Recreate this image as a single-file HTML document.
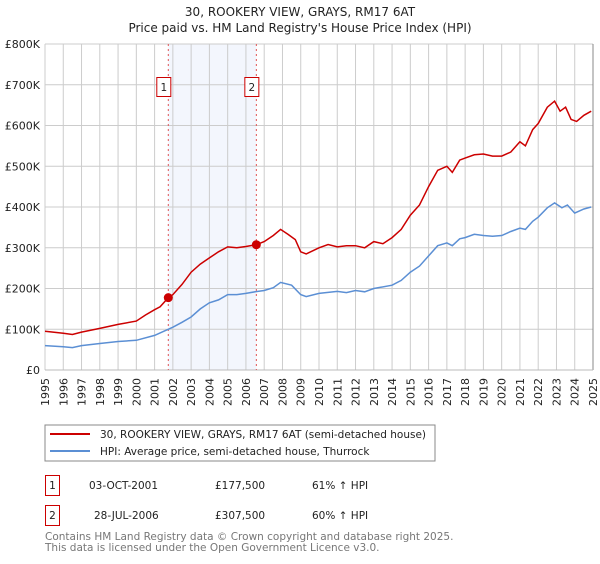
<!DOCTYPE html>
<html><head><meta charset="utf-8"><style>
body{margin:0;background:#fff;font-family:"DejaVu Sans","Liberation Sans",sans-serif;}
svg text{font-family:"DejaVu Sans","Liberation Sans",sans-serif;}
</style></head><body>
<svg width="600" height="560" xmlns="http://www.w3.org/2000/svg">
<text x="300" y="16" text-anchor="middle" font-size="12" fill="#222">30, ROOKERY VIEW, GRAYS, RM17 6AT</text>
<text x="300" y="32" text-anchor="middle" font-size="12" fill="#222">Price paid vs. HM Land Registry's House Price Index (HPI)</text>
<g id="plot"></g>
<rect x="45" y="425" width="390" height="36" fill="#fff" stroke="#888"/>
<line x1="50" y1="434" x2="90" y2="434" stroke="#cc0000" stroke-width="2"/>
<text x="100" y="438" font-size="10.5" fill="#222">30, ROOKERY VIEW, GRAYS, RM17 6AT (semi-detached house)</text>
<line x1="50" y1="451" x2="90" y2="451" stroke="#5b8fd4" stroke-width="2"/>
<text x="100" y="455" font-size="10.5" fill="#222">HPI: Average price, semi-detached house, Thurrock</text>
<g>
<rect x="45.5" y="475.5" width="14" height="20" fill="#fff" stroke="#cc0000"/>
<text x="52.5" y="489" text-anchor="middle" font-size="10.5" fill="#222">1</text>
<text x="89" y="489" font-size="10.5" fill="#222">03-OCT-2001</text>
<text x="215" y="489" font-size="10.5" fill="#222">£177,500</text>
<text x="312" y="489" font-size="10.5" fill="#222">61% ↑ HPI</text>
</g>
<g>
<rect x="45.5" y="505.5" width="14" height="20" fill="#fff" stroke="#cc0000"/>
<text x="52.5" y="519" text-anchor="middle" font-size="10.5" fill="#222">2</text>
<text x="94" y="519" font-size="10.5" fill="#222">28-JUL-2006</text>
<text x="215" y="519" font-size="10.5" fill="#222">£307,500</text>
<text x="312" y="519" font-size="10.5" fill="#222">60% ↑ HPI</text>
</g>
<text x="45" y="540" font-size="10.5" fill="#777">Contains HM Land Registry data © Crown copyright and database right 2025.</text>
<text x="45" y="551" font-size="10.5" fill="#777">This data is licensed under the Open Government Licence v3.0.</text>
</svg>
<script>
const redYears=[1995,1996,1996.5,1997,1998,1999,2000,2000.5,2001,2001.3,2001.75,2002,2002.5,2003,2003.5,2004,2004.5,2005,2005.5,2006,2006.57,2007,2007.5,2007.9,2008.3,2008.7,2009,2009.3,2010,2010.5,2011,2011.5,2012,2012.5,2013,2013.5,2014,2014.5,2015,2015.5,2016,2016.5,2017,2017.3,2017.7,2018,2018.5,2019,2019.5,2020,2020.5,2021,2021.3,2021.7,2022,2022.5,2022.9,2023.2,2023.5,2023.8,2024.1,2024.5,2024.9];
const redValues=[95,90,87,93,102,112,120,135,148,155,177.5,185,210,240,260,275,290,302,300,303,307.5,315,330,345,333,320,290,285,300,308,302,305,305,300,315,310,325,345,380,405,450,490,500,485,515,520,528,530,525,525,535,560,550,590,605,645,660,635,645,615,610,625,635];
const hpiYears=[1995,1996,1996.5,1997,1998,1999,2000,2001,2001.5,2002,2002.5,2003,2003.5,2004,2004.5,2005,2005.5,2006,2006.5,2007,2007.5,2007.9,2008.5,2009,2009.3,2010,2011,2011.5,2012,2012.5,2013,2014,2014.5,2015,2015.5,2016,2016.5,2017,2017.3,2017.7,2018,2018.5,2019,2019.5,2020,2020.5,2021,2021.3,2021.7,2022,2022.5,2022.9,2023.3,2023.6,2024,2024.5,2024.9];
const hpiValues=[60,57,55,60,65,70,73,85,95,105,117,130,150,165,172,185,185,188,192,195,202,215,208,185,180,188,193,190,195,192,200,208,220,240,255,280,305,312,305,322,325,333,330,328,330,340,348,345,365,375,398,410,398,405,385,395,400];
const yTicks=[0,100,200,300,400,500,600,700,800];
const yTickLabels=["£0","£100K","£200K","£300K","£400K","£500K","£600K","£700K","£800K"];
const xTicks=[1995,1996,1997,1998,1999,2000,2001,2002,2003,2004,2005,2006,2007,2008,2009,2010,2011,2012,2013,2014,2015,2016,2017,2018,2019,2020,2021,2022,2023,2024,2025];
const sales=[{t:2001.75,v:177.5,label:"1"},{t:2006.57,v:307.5,label:"2"}];
const X0=45,X1=593,Y0=370,Y1=44;
const xs=t=>X0+(t-1995)/30*(X1-X0);
const ys=v=>Y0-v/800*(Y0-Y1);
const NS="http://www.w3.org/2000/svg";
const g=document.getElementById('plot');
function mk(tag,a){const e=document.createElementNS(NS,tag);for(const k in a)e.setAttribute(k,a[k]);g.appendChild(e);return e;}
let e=mk('rect',{x:xs(sales[0].t),y:Y1,width:xs(sales[1].t)-xs(sales[0].t),height:Y0-Y1,fill:'#f3f6fd'});


yTicks.forEach((v,i)=>{
 let l=mk('line',{x1:X0,x2:X1,y1:ys(v),y2:ys(v),stroke:'#ccc'});
 
 
 let t=mk('text',{x:40,y:ys(v)+4,'text-anchor':'end','font-size':'11',fill:'#222'});
 t.textContent=yTickLabels[i];
 
 
});
xTicks.forEach(yr=>{
 let l=mk('line',{x1:xs(yr),x2:xs(yr),y1:Y1,y2:Y0,stroke:'#ccc'});
 
 
 let t=mk('text',{x:0,y:0,'text-anchor':'end','font-size':'11',fill:'#222',transform:`translate(${xs(yr)+4},378) rotate(-90)`});
 t.textContent=yr;
 
 
});
e=mk('line',{x1:X1,x2:X1,y1:Y1,y2:Y0,stroke:'#888'});


e=mk('line',{x1:X0,x2:X1,y1:Y0,y2:Y0,stroke:'#bbb'});


sales.forEach(s=>{
 let l=mk('line',{x1:xs(s.t),x2:xs(s.t),y1:Y1,y2:Y0,stroke:'#e05555','stroke-dasharray':'2,3'});
 
 
});
function path(xsA,vs,col,name){
 let d=xsA.map((t,i)=>(i?'L':'M')+xs(t).toFixed(1)+','+ys(vs[i]).toFixed(1)).join('');
 let p=mk('path',{d:d,fill:'none',stroke:col,'stroke-width':'1.5'});
 
 
}
path(hpiYears,hpiValues,'#5b8fd4','hpi-line');
path(redYears,redValues,'#cc0000','property-line');
sales.forEach(s=>{
 let c=mk('circle',{cx:xs(s.t),cy:ys(s.v),r:4.5,fill:'#cc0000'});
 
 
 let r=mk('rect',{x:xs(s.t)-11.5,y:77.5,width:14,height:19,fill:'#fff',stroke:'#cc0000'});
 
 
 let t=mk('text',{x:xs(s.t)-4.5,y:91,'text-anchor':'middle','font-size':'10.5',fill:'#222'});
 t.textContent=s.label;
 
 
});
</script>
</body></html>
